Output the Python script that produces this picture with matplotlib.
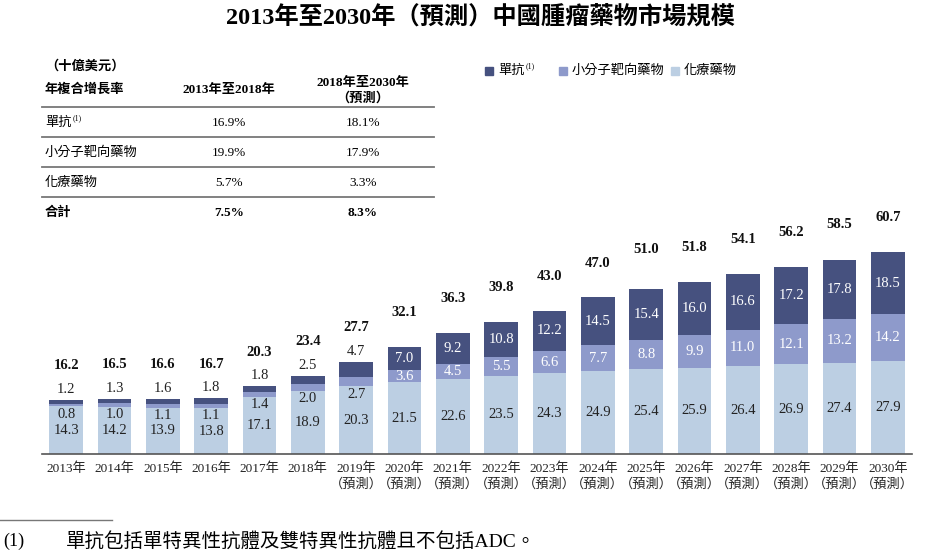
import matplotlib
matplotlib.use("Agg")
import matplotlib.pyplot as plt
import numpy as np

plt.rcParams["font.family"] = ["Liberation Serif", "Noto Sans CJK TC"]

years = ["2013年", "2014年", "2015年", "2016年", "2017年", "2018年", "2019年",
         "2020年", "2021年", "2022年", "2023年", "2024年", "2025年", "2026年",
         "2027年", "2028年", "2029年", "2030年"]
n_actual = 6  # 2013-2018 are actual, rest forecast
chemo = [14.3, 14.2, 13.9, 13.8, 17.1, 18.9, 20.3, 21.5, 22.6, 23.5, 24.3,
         24.9, 25.4, 25.9, 26.4, 26.9, 27.4, 27.9]
small_mol = [0.8, 1.0, 1.1, 1.1, 1.4, 2.0, 2.7, 3.6, 4.5, 5.5, 6.6, 7.7, 8.8,
             9.9, 11.0, 12.1, 13.2, 14.2]
mab = [1.2, 1.3, 1.6, 1.8, 1.8, 2.5, 4.7, 7.0, 9.2, 10.8, 12.2, 14.5, 15.4,
       16.0, 16.6, 17.2, 17.8, 18.5]
totals = [16.2, 16.5, 16.6, 16.7, 20.3, 23.4, 27.7, 32.1, 36.3, 39.8, 43.0,
          47.0, 51.0, 51.8, 54.1, 56.2, 58.5, 60.7]

cagr_rows = ["單抗", "小分子靶向藥物", "化療藥物", "合計"]
cagr_1318 = ["16.9%", "19.9%", "5.7%", "7.5%"]
cagr_1830 = ["18.1%", "17.9%", "3.3%", "8.3%"]

c_dark = "#46517f"
c_mid = "#8e9acb"
c_light = "#bccfe3"

W, H = 926, 559
fig = plt.figure(figsize=(W / 100, H / 100), dpi=100)


def px(x, y):
    return x / W, 1 - y / H


def with_note(xp, yp, name, size, bold="normal", sup_dx=28):
    # text followed by a small superscript "(1)"
    fig.text(*px(xp, yp), name, ha="left", va="center", fontsize=size,
             fontweight=bold)
    fig.text(*px(xp + sup_dx, yp - 5), "(1)", ha="left", va="center",
             fontsize=size * 0.6)


# main axes: baseline at y=454px
ax = fig.add_axes([42 / W, 1 - 454 / H, 870 / W, 233 / H])
x = np.arange(len(years))
chemo = np.array(chemo)
small_mol = np.array(small_mol)
mab = np.array(mab)
ax.bar(x, chemo, 0.7, color=c_light)
ax.bar(x, small_mol, 0.7, bottom=chemo, color=c_mid)
ax.bar(x, mab, 0.7, bottom=chemo + small_mol, color=c_dark)
ax.set_xlim(-0.5, len(years) - 0.5)
ax.set_ylim(0, 70)

fs = 10.5
for i in x:
    top = chemo[i] + small_mol[i] + mab[i]
    ax.text(i, totals[i] + 10.3, f"{totals[i]:.1f}", ha="center", va="center",
            fontsize=fs, fontweight="bold", color="#111111")
    ax.text(i, chemo[i] / 2, f"{chemo[i]:.1f}", ha="center", va="center",
            fontsize=fs, color="#222222")
    if i <= 6:
        ax.text(i, top + 3.2, f"{mab[i]:.1f}", ha="center", va="center",
                fontsize=fs, color="#222222")
        ax.text(i, chemo[i] - 2.3, f"{small_mol[i]:.1f}", ha="center",
                va="center", fontsize=fs, color="#222222")
    else:
        ax.text(i, chemo[i] + small_mol[i] / 2, f"{small_mol[i]:.1f}",
                ha="center", va="center", fontsize=fs, color="white")
        ax.text(i, chemo[i] + small_mol[i] + mab[i] / 2, f"{mab[i]:.1f}",
                ha="center", va="center", fontsize=fs, color="white")

labels = [y if i < n_actual else y + "\n（預測）" for i, y in enumerate(years)]
ax.set_xticks(x)
ax.set_xticklabels(labels, fontsize=9.5, color="#222222", va="top",
                   linespacing=1.3)
ax.tick_params(axis="x", length=0, pad=6)
ax.set_yticks([])
for s in ["top", "right", "left"]:
    ax.spines[s].set_visible(False)
ax.spines["bottom"].set_color("#555555")
ax.spines["bottom"].set_linewidth(1.2)

# title
fig.text(*px(480, 18), "2013年至2030年（預測）中國腫瘤藥物市場規模",
         ha="center", va="center", fontsize=17.5, fontweight="bold")

# legend
fig.patches.append(plt.Rectangle(px(485, 75), 8 / W, 8 / H,
                                 transform=fig.transFigure, color=c_dark))
with_note(498, 71, "單抗", 9.5)
fig.patches.append(plt.Rectangle(px(559, 75), 8 / W, 8 / H,
                                 transform=fig.transFigure, color=c_mid))
fig.text(*px(572, 71), "小分子靶向藥物", ha="left", va="center", fontsize=9.5)
fig.patches.append(plt.Rectangle(px(671, 75), 8 / W, 8 / H,
                                 transform=fig.transFigure, color=c_light))
fig.text(*px(684, 71), "化療藥物", ha="left", va="center", fontsize=9.5)

# CAGR table
fig.text(*px(45, 66), "（十億美元）", ha="left", va="center", fontsize=9.5,
         fontweight="bold")
fig.text(*px(45, 90), "年複合增長率", ha="left", va="center", fontsize=9.5,
         fontweight="bold")
fig.text(*px(229, 90), "2013年至2018年", ha="center", va="center",
         fontsize=9.5, fontweight="bold")
fig.text(*px(363, 91), "2018年至2030年\n（預測）", ha="center", va="center",
         fontsize=9.5, fontweight="bold", linespacing=1.25)
for ly in [107, 137, 167, 197]:
    fig.add_artist(plt.Line2D([42 / W, 434 / W], [1 - ly / H, 1 - ly / H],
                              color="#777777", lw=1.3))
for r, name in enumerate(cagr_rows):
    ry = 123 + 30 * r
    bold = "bold" if name == "合計" else "normal"
    if name == "單抗":
        with_note(45, ry, name, 9.5)
    else:
        fig.text(*px(45, ry), name, ha="left", va="center", fontsize=9.5,
                 fontweight=bold)
    fig.text(*px(229, ry), cagr_1318[r], ha="center", va="center",
             fontsize=9.5, fontweight=bold)
    fig.text(*px(363, ry), cagr_1830[r], ha="center", va="center",
             fontsize=9.5, fontweight=bold)

# footnote
fig.add_artist(plt.Line2D([0, 112 / W], [1 - 520 / H, 1 - 520 / H],
                          color="#777777", lw=1))
fig.text(*px(3, 541), "(1)", ha="left", va="center", fontsize=13)
fig.text(*px(66, 541), "單抗包括單特異性抗體及雙特異性抗體且不包括ADC。",
         ha="left", va="center", fontsize=14)

fig.savefig("out.png", dpi=100)
